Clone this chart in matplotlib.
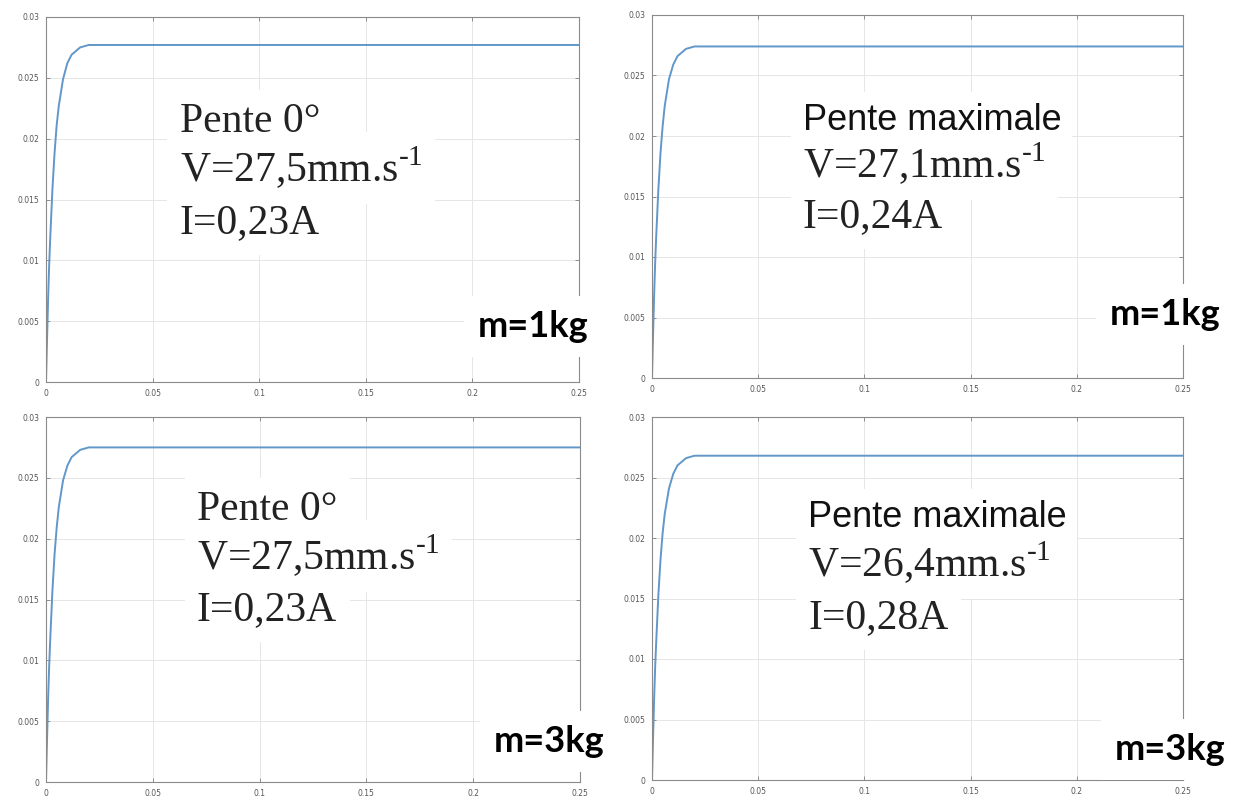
import numpy as np
import matplotlib.pyplot as plt

# temps (s) et position (m)
t = [0, 0.0005, 0.001, 0.0015, 0.002, 0.003, 0.004, 0.005, 0.006, 0.008,
     0.010, 0.012, 0.014, 0.016, 0.018, 0.020, 0.023, 0.026, 0.25]
y_pente0_1kg = [0, 0.0036, 0.0069, 0.0097, 0.0119, 0.0158, 0.0188, 0.0211, 0.0227, 0.0249,
                0.0262, 0.0269, 0.0272, 0.0275, 0.0276, 0.0277, 0.0277, 0.0277, 0.0277]
y_max_1kg = [0, 0.0036, 0.0068, 0.0096, 0.0118, 0.0156, 0.0186, 0.0208, 0.0225, 0.0247,
             0.0259, 0.0266, 0.0269, 0.0272, 0.0273, 0.0274, 0.0274, 0.0274, 0.0274]
y_pente0_3kg = [0, 0.0036, 0.0069, 0.0096, 0.0118, 0.0157, 0.0187, 0.0209, 0.0226, 0.0248,
                0.0260, 0.0267, 0.0270, 0.0273, 0.0274, 0.0275, 0.0275, 0.0275, 0.0275]
y_max_3kg = [0, 0.0035, 0.0067, 0.0094, 0.0115, 0.0153, 0.0182, 0.0204, 0.0220, 0.0241,
             0.0253, 0.0260, 0.0263, 0.0266, 0.0267, 0.0268, 0.0268, 0.0268, 0.0268]

titres = ["Pente 0°", "Pente maximale", "Pente 0°", "Pente maximale"]
vitesses = ["27,5", "27,1", "27,5", "26,4"]
courants = ["0,23", "0,24", "0,23", "0,28"]
masses = ["m=1kg", "m=1kg", "m=3kg", "m=3kg"]

xticks = [0, 0.05, 0.1, 0.15, 0.2, 0.25]
yticks = [0, 0.005, 0.01, 0.015, 0.02, 0.025, 0.03]
xlabels = ["0", "0.05", "0.1", "0.15", "0.2", "0.25"]
ylabels = ["0", "0.005", "0.01", "0.015", "0.02", "0.025", "0.03"]

plt.rcParams['mathtext.fontset'] = 'custom'
plt.rcParams['mathtext.rm'] = 'Liberation Serif'

W, H = 1235, 801
fig = plt.figure(figsize=(W / 100, H / 100), dpi=100)


def px_rect(l, t_, r, b):
    return [l / W, 1 - b / H, (r - l) / W, (b - t_) / H]


rects = [(46, 17, 579, 382), (652, 15, 1183, 378),
         (46, 417, 580, 782), (652, 417, 1183, 780)]
series = [y_pente0_1kg, y_max_1kg, y_pente0_3kg, y_max_3kg]

for rc, y in zip(rects, series):
    ax = fig.add_axes(px_rect(*rc))
    ax.plot(t, y, color='#6197c9', lw=1.4)
    ax.set_xlim(0, 0.25)
    ax.set_ylim(0, 0.03)
    ax.set_xticks(xticks)
    ax.set_xticklabels(xlabels)
    ax.set_yticks(yticks)
    ax.set_yticklabels(ylabels)
    ax.grid(True, color='#e6e6e6', lw=0.7)
    ax.set_axisbelow(True)
    ax.tick_params(direction='in', length=3, width=0.6, colors='#808080',
                   labelcolor='#555555', labelsize=5.5, top=True, right=True, pad=5)
    for s in ax.spines.values():
        s.set_color('#8a8a8a')
        s.set_linewidth(0.8)

# position des annotations (x gauche, lignes de base) en pixels
text_x = [180, 803, 197, 808]
text_base = [(132, 182, 233), (130, 178, 227), (520, 570, 620), (527, 577, 628)]
masse_pos = [(478, 337), (1110, 325), (494, 752), (1115, 760)]

for i in range(4):
    x0 = text_x[i] / W
    b1, b2, b3 = [1 - v / H for v in text_base[i]]
    if titres[i] == "Pente 0°":
        l1 = dict(family='Liberation Serif', fontsize=30, color='#222222')
    else:
        l1 = dict(family='Liberation Sans', fontsize=26, color='#111111')
    serif = dict(family='Liberation Serif', fontsize=30, color='#222222')
    lignes = [(b1, titres[i], l1),
              (b2, "V=" + vitesses[i] + r"mm.s$^{\text{-1}}$", serif),
              (b3, "I=" + courants[i] + "A", serif)]
    # fond blanc d'abord, texte ensuite
    for yb, s, kw in lignes:
        fig.text(x0, yb, s, va='baseline', zorder=3,
                 bbox=dict(boxstyle='square,pad=0.3', fc='white', ec='none'),
                 **{**kw, 'color': (1, 1, 1, 0)})
    for yb, s, kw in lignes:
        fig.text(x0, yb, s, va='baseline', zorder=4, **kw)
    mx, my = masse_pos[i]
    fig.text(mx / W, 1 - my / H, masses[i], family='Lato', fontweight='bold',
             fontsize=26, color='black', va='baseline', zorder=4,
             bbox=dict(boxstyle='square,pad=0.4', fc='white', ec='none'))

fig.savefig('out.png', dpi=100, facecolor='white')
